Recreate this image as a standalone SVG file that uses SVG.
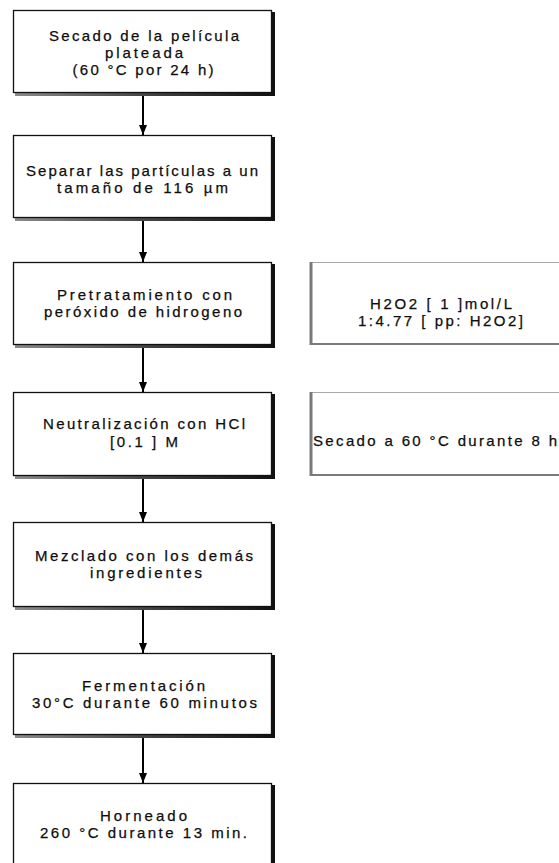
<svg xmlns="http://www.w3.org/2000/svg" width="559" height="863" viewBox="0 0 559 863">
  <defs>
    <linearGradient id="shade" x1="0" y1="0" x2="1" y2="0">
      <stop offset="0" stop-color="#8a8a8a"/>
      <stop offset="0.5" stop-color="#444"/>
      <stop offset="1" stop-color="#111"/>
    </linearGradient>
    <marker id="head" viewBox="0 0 10 8" refX="10" refY="4" markerWidth="10" markerHeight="8" markerUnits="userSpaceOnUse" orient="auto">
      <path d="M0,0 L10,4 L0,8 Z" fill="#000"/>
    </marker>
    <style>
      .shadow { fill: url(#shade); }
      .box { fill: #fff; stroke: #111; stroke-width: 1.3; }
      .side { fill: #fff; stroke: #a8a8a8; stroke-width: 1; }
      .sideedge { stroke: #7a7a7a; fill: none; }
      .lbl, .lbl-l { font-family: "Liberation Sans", Arial, sans-serif; font-size: 15px; fill: #0d0d0d; stroke: #0d0d0d; stroke-width: 0.25; }
      .lbl { text-anchor: middle; }
      .conn { stroke: #000; stroke-width: 2; fill: none; marker-end: url(#head); }
    </style>
  </defs>

  <rect width="559" height="863" fill="#fff"/>

  <!-- connectors -->
  <g id="connectors">
    <path class="conn" d="M143,93 V135"/>
    <path class="conn" d="M143,218 V262"/>
    <path class="conn" d="M143,345 V392"/>
    <path class="conn" d="M143,476 V522"/>
    <path class="conn" d="M143,607 V653"/>
    <path class="conn" d="M143,735 V783"/>
  </g>

  <!-- main process steps -->
  <g id="secado-pelicula">
    <rect class="shadow" x="15" y="12" width="260" height="84"/>
    <rect class="box" x="13.5" y="10.5" width="258" height="82"/>
    <text class="lbl" x="144" y="40.5" textLength="190" lengthAdjust="spacing">Secado de la película</text>
    <text class="lbl" x="144" y="57.5" textLength="78" lengthAdjust="spacing">plateada</text>
    <text class="lbl" x="143" y="75" textLength="141" lengthAdjust="spacing">(60 °C por 24 h)</text>
  </g>

  <g id="separar">
    <rect class="shadow" x="15" y="137" width="260" height="84"/>
    <rect class="box" x="13.5" y="135.5" width="258" height="82"/>
    <text class="lbl" x="142" y="175.5" textLength="232" lengthAdjust="spacing">Separar las partículas a un</text>
    <text class="lbl" x="142.5" y="192.5" textLength="171" lengthAdjust="spacing">tamaño de 116 µm</text>
  </g>

  <g id="pretratamiento">
    <rect class="shadow" x="15" y="264" width="260" height="84"/>
    <rect class="box" x="13.5" y="262.5" width="258" height="82"/>
    <text class="lbl" x="144.5" y="300" textLength="175" lengthAdjust="spacing">Pretratamiento con</text>
    <text class="lbl" x="143" y="317" textLength="198" lengthAdjust="spacing">peróxido de hidrogeno</text>
  </g>

  <g id="neutralizacion">
    <rect class="shadow" x="15" y="394" width="260" height="85"/>
    <rect class="box" x="13.5" y="392.5" width="258" height="83"/>
    <text class="lbl" x="144" y="429" textLength="202" lengthAdjust="spacing">Neutralización con HCl</text>
    <text class="lbl" x="144" y="447" textLength="68" lengthAdjust="spacing">[0.1 ] M</text>
  </g>

  <g id="mezclado">
    <rect class="shadow" x="15" y="524" width="260" height="86"/>
    <rect class="box" x="13.5" y="522.5" width="258" height="84"/>
    <text class="lbl" x="144" y="560.5" textLength="218" lengthAdjust="spacing">Mezclado con los demás</text>
    <text class="lbl" x="146" y="577.5" textLength="112" lengthAdjust="spacing">ingredientes</text>
  </g>

  <g id="fermentacion">
    <rect class="shadow" x="15" y="655" width="260" height="83"/>
    <rect class="box" x="13.5" y="653.5" width="258" height="81"/>
    <text class="lbl" x="143.5" y="691" textLength="123" lengthAdjust="spacing">Fermentación</text>
    <text class="lbl" x="144.5" y="708" textLength="225" lengthAdjust="spacing">30°C durante 60 minutos</text>
  </g>

  <g id="horneado">
    <rect class="shadow" x="15" y="785" width="260" height="90"/>
    <rect class="box" x="13.5" y="783.5" width="258" height="88"/>
    <text class="lbl" x="143.5" y="821" textLength="87" lengthAdjust="spacing">Horneado</text>
    <text class="lbl" x="143.5" y="838" textLength="207" lengthAdjust="spacing">260 °C durante 13 min.</text>
  </g>

  <!-- side notes -->
  <g id="nota-h2o2">
    <rect class="side" x="310.5" y="262.5" width="270" height="81"/>
    <path class="sideedge" d="M311,262 V345" stroke-width="3"/>
    <path class="sideedge" d="M310,344 H570" stroke-width="2"/>
    <text class="lbl" x="441" y="309" textLength="142" lengthAdjust="spacing">H2O2 [ 1 ]mol/L</text>
    <text class="lbl" x="440.5" y="326" textLength="165" lengthAdjust="spacing">1:4.77 [ pp: H2O2]</text>
  </g>

  <g id="nota-secado">
    <rect class="side" x="310.5" y="392.5" width="270" height="82"/>
    <path class="sideedge" d="M311,392 V476" stroke-width="3"/>
    <path class="sideedge" d="M310,475 H570" stroke-width="2"/>
    <text class="lbl-l" x="313" y="446" textLength="244" lengthAdjust="spacing">Secado a 60 °C durante 8 h</text>
  </g>
</svg>
